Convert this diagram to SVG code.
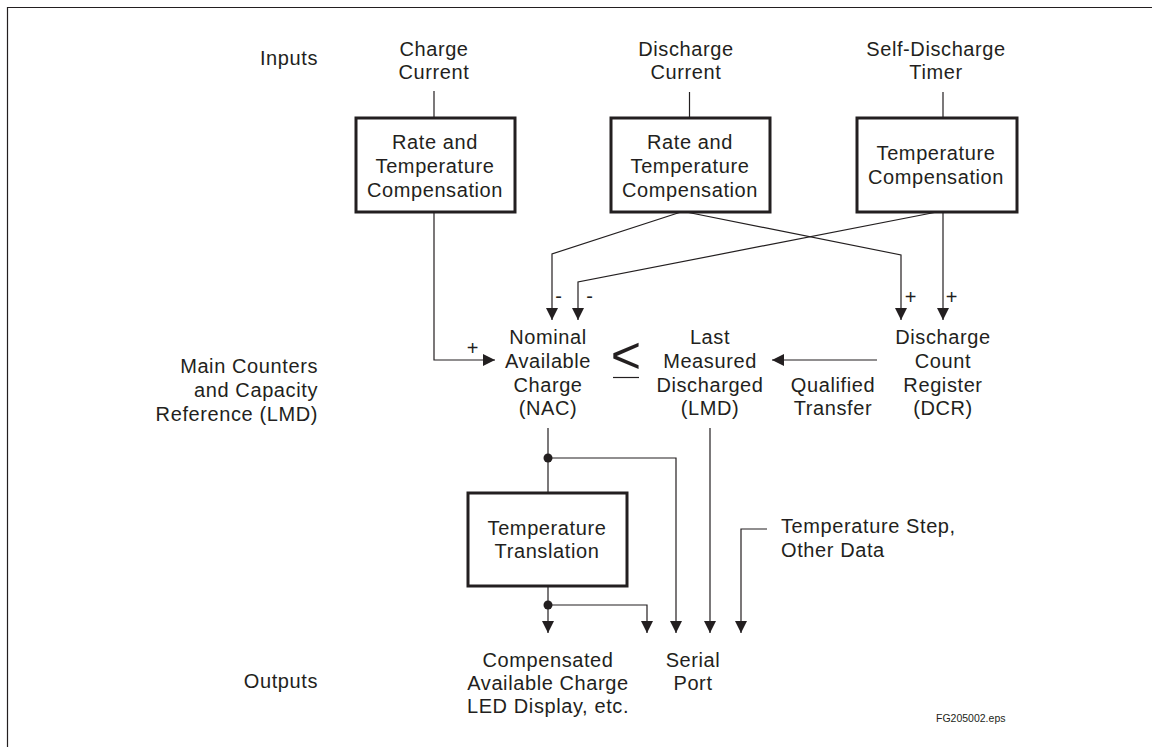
<svg xmlns="http://www.w3.org/2000/svg" width="1152" height="747" viewBox="0 0 1152 747">
<style>
text{font-family:"Liberation Sans",Arial,Helvetica,sans-serif;font-size:20px;letter-spacing:0.6px;fill:#231f20}
.m{text-anchor:middle}
.e{text-anchor:end}
.box{fill:#fff;stroke:#231f20;stroke-width:3}
.ln{fill:none;stroke:#231f20;stroke-width:1.2}
.ar{fill:none;stroke:#231f20;stroke-width:1.2;marker-end:url(#ah)}
.small{font-size:10.5px;letter-spacing:0}
</style>
<defs>
<marker id="ah" markerWidth="12" markerHeight="12" refX="12" refY="6" orient="auto" markerUnits="userSpaceOnUse">
<path d="M0,0 L12,6 L0,12 z" fill="#231f20"/>
</marker>
</defs>
<rect width="1152" height="747" fill="#fff"/>
<g id="frame">
<path class="ln" d="M7.5,747 V7.5 H1152" stroke-width="1.5"/>
</g>
<g id="row-labels">
<text class="e" x="318" y="65">Inputs</text>
<text class="e" x="318" y="373">Main Counters</text>
<text class="e" x="318" y="397">and Capacity</text>
<text class="e" x="318" y="421">Reference (LMD)</text>
<text class="e" x="318" y="688">Outputs</text>
</g>
<g id="in-charge">
<text class="m" x="434" y="56">Charge</text>
<text class="m" x="434" y="79">Current</text>
</g>
<g id="in-discharge">
<text class="m" x="686" y="56">Discharge</text>
<text class="m" x="686" y="79">Current</text>
</g>
<g id="in-self">
<text class="m" x="936" y="56">Self-Discharge</text>
<text class="m" x="936" y="79">Timer</text>
</g>
<g id="box-charge">
<rect class="box" x="356" y="118" width="159" height="94"/>
<text class="m" x="435" y="149">Rate and</text>
<text class="m" x="435" y="173">Temperature</text>
<text class="m" x="435" y="197">Compensation</text>
</g>
<g id="box-discharge">
<rect class="box" x="611" y="118" width="159" height="94"/>
<text class="m" x="690" y="149">Rate and</text>
<text class="m" x="690" y="173">Temperature</text>
<text class="m" x="690" y="197">Compensation</text>
</g>
<g id="box-self">
<rect class="box" x="857" y="118" width="160" height="94"/>
<text class="m" x="936" y="160">Temperature</text>
<text class="m" x="936" y="184">Compensation</text>
</g>
<g id="nac">
<text class="m" x="548" y="344">Nominal</text>
<text class="m" x="548" y="368">Available</text>
<text class="m" x="548" y="392">Charge</text>
<text class="m" x="548" y="415">(NAC)</text>
</g>
<g id="leq">
<text class="m" x="626" y="373" style="font-size:52px;letter-spacing:0">&lt;</text>
<line class="ln" x1="613" y1="377.5" x2="639" y2="377.5"/>
</g>
<g id="lmd">
<text class="m" x="710" y="344">Last</text>
<text class="m" x="710" y="368">Measured</text>
<text class="m" x="710" y="392">Discharged</text>
<text class="m" x="710" y="415">(LMD)</text>
</g>
<g id="dcr">
<text class="m" x="943" y="344">Discharge</text>
<text class="m" x="943" y="368">Count</text>
<text class="m" x="943" y="392">Register</text>
<text class="m" x="943" y="415">(DCR)</text>
</g>
<g id="qualified">
<text class="m" x="833" y="392">Qualified</text>
<text class="m" x="833" y="415">Transfer</text>
</g>
<g id="box-translation">
<rect class="box" x="468" y="493" width="159" height="93"/>
<text class="m" x="547" y="535">Temperature</text>
<text class="m" x="547" y="558">Translation</text>
</g>
<g id="temp-step">
<text x="781" y="533">Temperature Step,</text>
<text x="781" y="557">Other Data</text>
</g>
<g id="out-display">
<text class="m" x="548" y="667">Compensated</text>
<text class="m" x="548" y="690">Available Charge</text>
<text class="m" x="548" y="713">LED Display, etc.</text>
</g>
<g id="out-serial">
<text class="m" x="693" y="667">Serial</text>
<text class="m" x="693" y="690">Port</text>
</g>
<g id="file-tag">
<text class="small" x="936" y="722">FG205002.eps</text>
</g>
<g id="connectors">
<line class="ln" x1="434" y1="91" x2="434" y2="118"/>
<line class="ln" x1="689.5" y1="92" x2="689.5" y2="118"/>
<line class="ln" x1="943" y1="92" x2="943" y2="118"/>
<path class="ar" d="M434,212 V360 H495"/>
<text class="m" x="473" y="355">+</text>
<path class="ar" d="M681,212 L552,254 V320"/>
<path class="ar" d="M686,212 L901,255 V320"/>
<path class="ar" d="M937,212 L578,282 V320"/>
<path class="ar" d="M943,212 V320"/>
<text class="m" x="559" y="303">-</text>
<text class="m" x="590" y="303">-</text>
<text class="m" x="911" y="304">+</text>
<text class="m" x="952" y="304">+</text>
<path class="ar" d="M877,360 H772"/>
<line class="ln" x1="548" y1="428" x2="548" y2="493"/>
<path class="ar" d="M548,458 H676 V633"/>
<path class="ar" d="M710,428 V633"/>
<path class="ar" d="M548,586 V633"/>
<path class="ar" d="M548,605 H647 V633"/>
<path class="ar" d="M767,529 H741 V633"/>
<circle cx="548" cy="458" r="4.5" fill="#231f20"/>
<circle cx="548" cy="605" r="4.5" fill="#231f20"/>
</g>
</svg>
